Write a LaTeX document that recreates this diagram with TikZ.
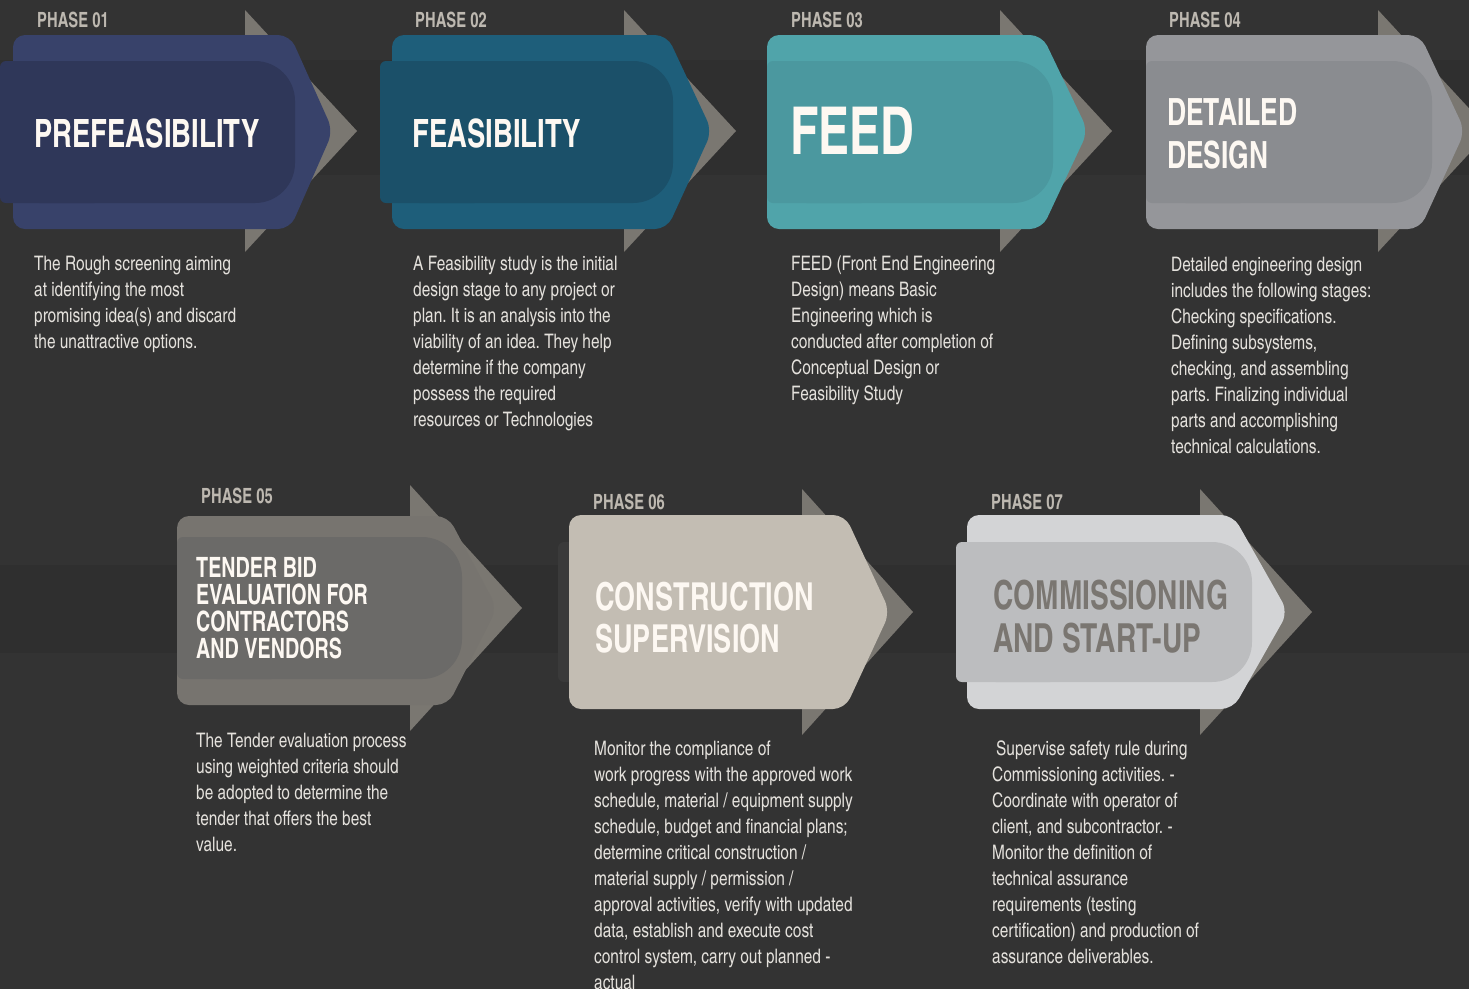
\documentclass[tikz,border=0pt]{standalone}
\usepackage{fontspec}
\setmainfont{texgyreheroscn}[Extension=.otf, UprightFont=*-regular, BoldFont=*-bold,
  ItalicFont=*-italic, BoldItalicFont=*-bolditalic,
  UprightFeatures={FakeStretch=0.94}, BoldFeatures={FakeStretch=0.86}]
\usepackage{tikz}
\frenchspacing
\definecolor{bgcol}{HTML}{333333}
\definecolor{bandcol}{HTML}{2F2F2F}
\definecolor{chevcol}{HTML}{7A7771}
\definecolor{lblcol}{HTML}{BDB8B0}
\definecolor{titlecol}{HTML}{FDF8F2}
\definecolor{desccol}{HTML}{E4E1DC}
\definecolor{ph1}{HTML}{38426A}\definecolor{ph1in}{HTML}{2F3759}
\definecolor{ph2}{HTML}{1E5E7A}\definecolor{ph2in}{HTML}{1B5069}
\definecolor{ph3}{HTML}{50A4AA}\definecolor{ph3in}{HTML}{4B989F}
\definecolor{ph4}{HTML}{95969A}\definecolor{ph4in}{HTML}{8A8C90}
\definecolor{ph5}{HTML}{77746F}\definecolor{ph5in}{HTML}{6B6A68}
\definecolor{ph6}{HTML}{C3BDB3}\definecolor{ph6in}{HTML}{3A3A3A}
\definecolor{ph7}{HTML}{D3D4D6}\definecolor{ph7in}{HTML}{BCBDBF}
\definecolor{ph7txt}{HTML}{7A7671}
\tikzset{
    % grey chevron behind each phase
    chevron/.style={
           fill=chevcol},
    % the coloured arrow box
    phasebox/.style={
           rounded corners=12pt},
    innerbox/.style={
           draw=none},
    band/.style={
           fill=bandcol},
    phaselbl/.style={
           inner sep=0pt,
           anchor=base west,
           text=lblcol,
           font=\bfseries\fontsize{21}{24}\selectfont},
    titletxt/.style={
           inner sep=0pt,
           align=left,
           text=titlecol,
           font=\bfseries\fontsize{39}{44}\selectfont},
    desctxt/.style={
           inner sep=0pt,
           anchor=north west,
           align=left,
           text=desccol,
           font=\fontsize{20}{26}\selectfont}
}
\begin{document}
\begin{tikzpicture}[x=1pt,y=-1pt]
\useasboundingbox (0,0) rectangle (1469,989);
\clip (0,0) rectangle (1469,989);
\fill[bgcol] (0,0) rectangle (1469,989);
\fill[band] (0,60) rectangle (1469,175);
\fill[band] (0,565) rectangle (1469,653);

% phase 01
\fill[chevron] (245,10) -- (357,131) -- (245,252) -- cycle;
\fill[phasebox, fill=ph1] (13,35) -- (290,35) -- (333,131) -- (290,229) -- (13,229) -- cycle;
\fill[innerbox, fill=ph1in, rounded corners=40pt] (0,61) rectangle (295,203);
\fill[innerbox, fill=ph1in, rounded corners=6pt] (0,61) rectangle (100,203);
\node[phaselbl] (l1) at (37,27) {PHASE 01};
\node[titletxt, anchor=base west] (t1) at (34,147) {PREFEASIBILITY};
\node[desctxt] (d1) at (34,256) {The Rough screening aiming\\at identifying the most\\promising idea(s) and discard\\the unattractive options.};

% phase 02
\fill[chevron] (624,10) -- (736,131) -- (624,252) -- cycle;
\fill[phasebox, fill=ph2] (392,35) -- (667,35) -- (712,131) -- (667,229) -- (392,229) -- cycle;
\fill[innerbox, fill=ph2in, rounded corners=40pt] (380,61) rectangle (673,203);
\fill[innerbox, fill=ph2in, rounded corners=6pt] (380,61) rectangle (480,203);
\node[phaselbl] (l2) at (415,27) {PHASE 02};
\node[titletxt, anchor=base west] (t2) at (412,147) {FEASIBILITY};
\node[desctxt] (d2) at (413,256) {A Feasibility study is the initial\\design stage to any project or\\plan. It is an analysis into the\\viability of an idea. They help\\determine if the company\\possess the required\\resources or Technologies};

% phase 03
\fill[chevron] (1000,10) -- (1112,131) -- (1000,252) -- cycle;
\fill[phasebox, fill=ph3] (767,35) -- (1042,35) -- (1088,131) -- (1042,229) -- (767,229) -- cycle;
\fill[innerbox, fill=ph3in, rounded corners=40pt] (767,61) rectangle (1053,203);
\fill[innerbox, fill=ph3in, rounded corners=6pt] (767,61) rectangle (867,203);
\node[phaselbl] (l3) at (791,27) {PHASE 03};
\node[titletxt, anchor=base west, font=\bfseries\fontsize{66}{72}\selectfont] (t3) at (790,154) {FEED};
\node[desctxt] (d3) at (791,256) {FEED (Front End Engineering\\Design) means Basic\\Engineering which is\\conducted after completion of\\Conceptual Design or\\Feasibility Study};

% phase 04
\fill[chevron] (1378,10) -- (1490,131) -- (1378,252) -- cycle;
\fill[phasebox, fill=ph4] (1146,35) -- (1420,35) -- (1465,131) -- (1420,229) -- (1146,229) -- cycle;
\fill[innerbox, fill=ph4in, rounded corners=40pt] (1146,61) rectangle (1432,203);
\fill[innerbox, fill=ph4in, rounded corners=6pt] (1146,61) rectangle (1246,203);
\node[phaselbl] (l4) at (1169,27) {PHASE 04};
\node[titletxt, anchor=north west, font=\bfseries\fontsize{37.5}{43}\selectfont] (t4) at (1167,98) {DETAILED\\DESIGN};
\node[desctxt] (d4) at (1171,257) {Detailed engineering design\\includes the following stages:\\Checking specifications.\\Defining subsystems,\\checking, and assembling\\parts. Finalizing individual\\parts and accomplishing\\technical calculations.};

% phase 05
\fill[chevron] (410,485) -- (522,608) -- (410,731) -- cycle;
\fill[phasebox, fill=ph5] (177,516) -- (448,516) -- (497,608) -- (448,705) -- (177,705) -- cycle;
\fill[innerbox, fill=ph5in, rounded corners=40pt] (177,537) rectangle (462,679);
\fill[innerbox, fill=ph5in, rounded corners=6pt] (177,537) rectangle (277,679);
\node[phaselbl] (l5) at (201,503) {PHASE 05};
\node[titletxt, anchor=north west, font=\bfseries\fontsize{28}{27}\selectfont] (t5) at (196,557) {TENDER BID\\EVALUATION FOR\\CONTRACTORS\\AND VENDORS};
\node[desctxt] (d5) at (196,733) {The Tender evaluation process\\using weighted criteria should\\be adopted to determine the\\tender that offers the best\\value.};

% phase 06
\fill[chevron] (802,489) -- (913,612) -- (802,735) -- cycle;
\fill[innerbox, fill=ph6in, rounded corners=6pt] (558,542) rectangle (640,682);
\fill[phasebox, fill=ph6] (569,515) -- (845,515) -- (890,612) -- (845,709) -- (569,709) -- cycle;
\node[phaselbl] (l6) at (593,509) {PHASE 06};
\node[titletxt, anchor=north west, font=\bfseries\fontsize{38.5}{42}\selectfont] (t6) at (595,582) {CONSTRUCTION\\SUPERVISION};
\node[desctxt] (d6) at (594,741) {Monitor the compliance of\\work progress with the approved work\\schedule, material / equipment supply\\schedule, budget and financial plans;\\determine critical construction /\\material supply / permission /\\approval activities, verify with updated\\data, establish and execute cost\\control system, carry out planned -\\actual};

% phase 07
\fill[chevron] (1200,489) -- (1312,612) -- (1200,735) -- cycle;
\fill[phasebox, fill=ph7] (967,515) -- (1233,515) -- (1288,612) -- (1233,709) -- (967,709) -- cycle;
\fill[innerbox, fill=ph7in, rounded corners=40pt] (956,542) rectangle (1252,682);
\fill[innerbox, fill=ph7in, rounded corners=6pt] (956,542) rectangle (1056,682);
\node[phaselbl] (l7) at (991,509) {PHASE 07};
\node[titletxt, anchor=north west, text=ph7txt, font=\bfseries\fontsize{40}{43}\selectfont] (t7) at (993,580) {COMMISSIONING\\AND START-UP};
\node[desctxt] (d7) at (992,741) {\hspace{4pt}Supervise safety rule during\\Commissioning activities. -\\Coordinate with operator of\\client, and subcontractor. -\\Monitor the definition of\\technical assurance\\requirements (testing\\certification) and production of\\assurance deliverables.};
\end{tikzpicture}
\end{document}
